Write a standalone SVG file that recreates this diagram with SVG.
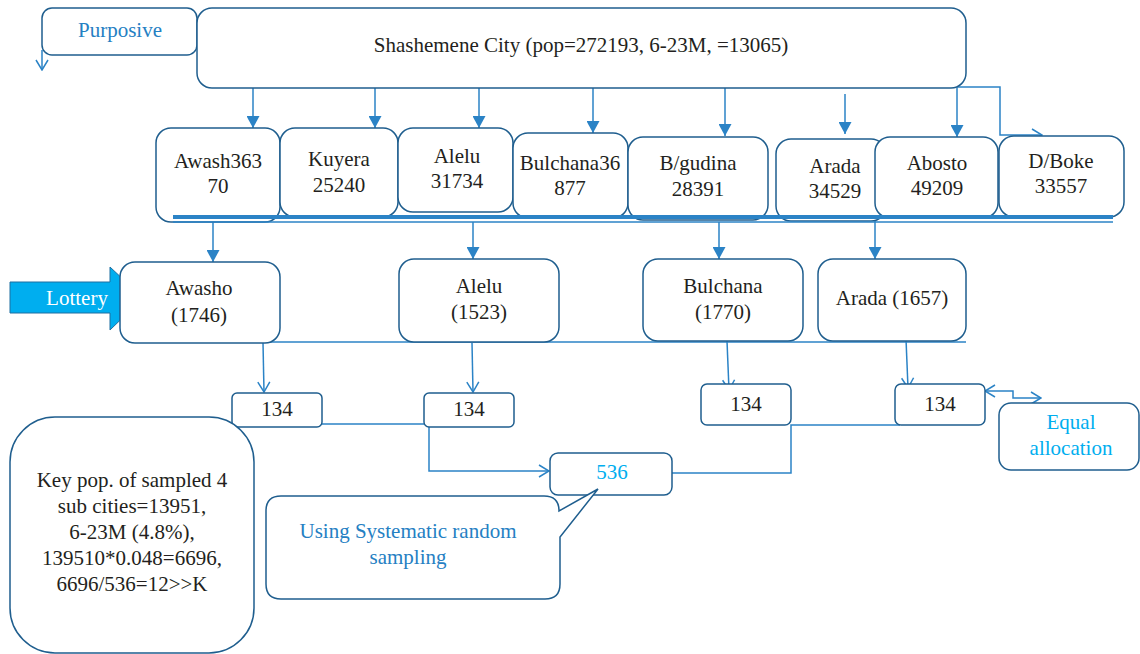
<svg xmlns="http://www.w3.org/2000/svg" width="1140" height="654" viewBox="0 0 1140 654">
<defs>
<style>
.box{fill:#fff;stroke:#1F5E8E;stroke-width:1.5}
.t{font-family:"Liberation Serif","Times New Roman",serif;font-size:21px;fill:#231F20;text-anchor:middle}
.tb{fill:#2580C3}
.tc{fill:#00AEEF}
.tw{fill:#fff}
.ln{fill:none;stroke:#2B83C6;stroke-width:1.5}
.arf{marker-end:url(#tri)}
.arv{marker-end:url(#vee)}
</style>
<marker id="tri" markerUnits="userSpaceOnUse" markerWidth="12" markerHeight="13" viewBox="0 0 12 13" refX="12" refY="6.5" orient="auto"><path d="M0,0 L12,6.5 L0,13 z" fill="#2B83C6"/></marker>
<marker id="vee" markerUnits="userSpaceOnUse" markerWidth="12" markerHeight="14" viewBox="0 0 12 14" refX="11" refY="7" orient="auto"><path d="M1,1 L11,7 L1,13" fill="none" stroke="#2B83C6" stroke-width="1.5"/></marker>
<marker id="veeS" markerUnits="userSpaceOnUse" markerWidth="12" markerHeight="14" viewBox="0 0 12 14" refX="11" refY="7" orient="auto-start-reverse"><path d="M1,1 L11,7 L1,13" fill="none" stroke="#2B83C6" stroke-width="1.5"/></marker>
</defs>
<rect width="1140" height="654" fill="#fff"/>

<g id="connectors">
<path class="ln arv" d="M42,50 V70"/>
<path class="ln arf" d="M253,88 V128"/>
<path class="ln arf" d="M375,88 V128"/>
<path class="ln arf" d="M479,88 V128"/>
<path class="ln arf" d="M593,88 V133"/>
<path class="ln arf" d="M725,88 V136"/>
<path class="ln arf" d="M845,94 V134"/>
<path class="ln arf" d="M957,88 V137"/>
<path class="ln arv" d="M957,87 H1000 V135 H1042"/>
<path class="ln arf" d="M213,222 V262"/>
<path class="ln arf" d="M473,222 V259"/>
<path class="ln arf" d="M719,222 V259"/>
<path class="ln arf" d="M875,218 V259"/>
<path class="ln" d="M129,342 H966"/>
<path class="ln arv" d="M263,343 L264,392"/>
<path class="ln arv" d="M472,343 L473,392"/>
<path class="ln arv" d="M727,341 L729,390"/>
<path class="ln arv" d="M906,339 L908,388"/>
<path class="ln arv" d="M308,424 H429 V471 H549"/>
<path class="ln" d="M900,425 H791 V473 H672"/>
<path d="M985,391 H1013 V398 H1041" fill="none" stroke="#2B83C6" stroke-width="1.5" marker-start="url(#veeS)" marker-end="url(#veeS)"/>
</g>

<g id="purposive">
<rect class="box" x="42" y="8" width="155" height="47" rx="10"/>
<text class="t tb" x="120" y="37">Purposive</text>
</g>
<g id="city">
<rect class="box" x="197" y="8" width="769" height="80" rx="15"/>
<text class="t" x="581" y="52">Shashemene City (pop=272193, 6-23M, =13065)</text>
</g>

<g id="awash">
<rect class="box" x="156" y="128" width="124" height="94" rx="15"/>
<text class="t" x="218" y="168">Awash363</text>
<text class="t" x="218" y="193">70</text>
</g>
<g id="kuyera">
<rect class="box" x="280" y="128" width="118" height="89" rx="15"/>
<text class="t" x="339" y="166">Kuyera</text>
<text class="t" x="339" y="192">25240</text>
</g>
<g id="alelu">
<rect class="box" x="398" y="128" width="115" height="84" rx="15"/>
<text class="t" x="457" y="163">Alelu</text>
<text class="t" x="457" y="188">31734</text>
</g>
<g id="bulchana">
<rect class="box" x="513" y="133" width="115" height="85" rx="15"/>
<text class="t" x="570" y="170">Bulchana36</text>
<text class="t" x="570" y="195">877</text>
</g>
<g id="bgudina">
<rect class="box" x="628" y="137" width="140" height="83" rx="15"/>
<text class="t" x="698" y="170">B/gudina</text>
<text class="t" x="698" y="196">28391</text>
</g>
<g id="arada">
<rect class="box" x="776" y="139" width="110" height="82" rx="15"/>
<text class="t" x="835" y="173">Arada</text>
<text class="t" x="835" y="198">34529</text>
</g>
<g id="abosto">
<rect class="box" x="875" y="137" width="123" height="81" rx="15"/>
<text class="t" x="937" y="170">Abosto</text>
<text class="t" x="937" y="195">49209</text>
</g>
<g id="dboke">
<rect class="box" x="999" y="136" width="125" height="81" rx="15"/>
<text class="t" x="1061" y="168">D/Boke</text>
<text class="t" x="1061" y="193">33557</text>
</g>
<g id="baseline">
<path d="M173,217 H1113" stroke="#2B83C6" stroke-width="4" fill="none"/>
<path d="M173,222 H1113" stroke="#2B83C6" stroke-width="1.5" fill="none"/>
</g>

<g id="lottery">
<path d="M10,282 H110 V267 L143,298 L110,330 V313 H10 Z" fill="#00AEEF" stroke="#1F6FA0" stroke-width="1"/>
<text class="t tw" x="77" y="305">Lottery</text>
</g>
<g id="awasho">
<rect class="box" x="120" y="262" width="160" height="81" rx="15"/>
<text class="t" x="199" y="295">Awasho</text>
<text class="t" x="199" y="322">(1746)</text>
</g>
<g id="alelu2">
<rect class="box" x="399" y="259" width="160" height="83" rx="15"/>
<text class="t" x="479" y="293">Alelu</text>
<text class="t" x="479" y="319">(1523)</text>
</g>
<g id="bulchana2">
<rect class="box" x="643" y="259" width="160" height="82" rx="15"/>
<text class="t" x="723" y="293">Bulchana</text>
<text class="t" x="723" y="319">(1770)</text>
</g>
<g id="arada2">
<rect class="box" x="818" y="259" width="148" height="82" rx="15"/>
<text class="t" x="892" y="305">Arada (1657)</text>
</g>

<g id="n134a">
<rect class="box" x="232" y="393" width="90" height="34" rx="5"/>
<text class="t" x="277" y="416">134</text>
</g>
<g id="n134b">
<rect class="box" x="424" y="393" width="90" height="34" rx="5"/>
<text class="t" x="469" y="416">134</text>
</g>
<g id="n134c">
<rect class="box" x="701" y="384" width="90" height="41" rx="6"/>
<text class="t" x="746" y="411">134</text>
</g>
<g id="n134d">
<rect class="box" x="895" y="384" width="90" height="41" rx="6"/>
<text class="t" x="940" y="411">134</text>
</g>
<g id="equal">
<rect class="box" x="999" y="403" width="140" height="67" rx="12"/>
<text class="t tc" x="1071" y="429">Equal</text>
<text class="t tc" x="1071" y="455">allocation</text>
</g>
<g id="n536">
<rect class="box" x="550" y="453" width="122" height="42" rx="8"/>
<text class="t tc" x="612" y="479">536</text>
</g>
<g id="callout">
<path class="box" d="M281,496 H544 Q559,496 559,511 L598,489 L560,537 V584 Q560,599 545,599 H281 Q266,599 266,584 V511 Q266,496 281,496 Z"/>
<text class="t tb" x="408" y="538">Using Systematic random</text>
<text class="t tb" x="408" y="564">sampling</text>
</g>
<g id="keypop">
<rect class="box" x="10" y="417" width="244" height="236" rx="45"/>
<text class="t" x="132" y="487">Key pop. of sampled 4</text>
<text class="t" x="132" y="513">sub cities=13951,</text>
<text class="t" x="132" y="539">6-23M (4.8%),</text>
<text class="t" x="132" y="565">139510*0.048=6696,</text>
<text class="t" x="132" y="591">6696/536=12&gt;&gt;K</text>
</g>
</svg>
